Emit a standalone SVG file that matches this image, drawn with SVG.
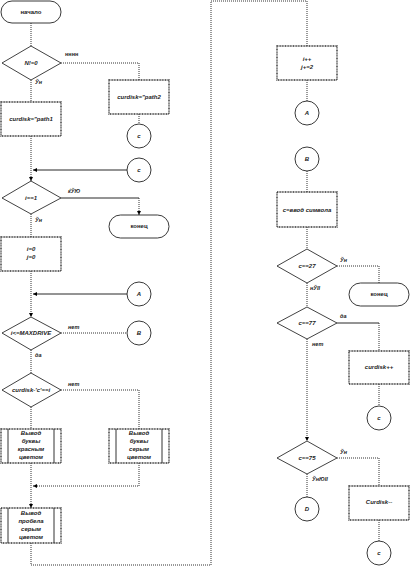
<svg xmlns="http://www.w3.org/2000/svg" width="411" height="567" viewBox="0 0 411 567">
<style>
.bg{fill:#fff}
.box{fill:#fff;stroke:#333;stroke-width:1.4;stroke-dasharray:1 0.6}
.dia{fill:#fff;stroke:#111;stroke-width:0.8}
.term{fill:#fff;stroke:#222;stroke-width:0.9}
.sub{stroke:#333;stroke-width:1}
.c{fill:none;stroke:#333;stroke-width:1;stroke-dasharray:1 1}
.s{fill:none;stroke:#111;stroke-width:0.9}
text{font-family:"Liberation Sans",Arial,sans-serif;font-size:6px;fill:#222;text-anchor:middle;font-style:italic;font-weight:bold}
.n{font-style:normal}
.lb{text-anchor:start;font-size:5.5px}
</style>
<defs>
<marker id="ar" viewBox="0 0 6 6" refX="6" refY="3" markerWidth="4" markerHeight="4" orient="auto" markerUnits="userSpaceOnUse">
<path d="M0,0 L6,3 L0,6 z" fill="#000"/>
</marker>
</defs>
<rect class="bg" width="411" height="567"/>
<g id="connectors">
<path class="c" d="M31,23 V46"/>
<path class="c" d="M61,63 H139 V80"/>
<path class="c" d="M31,80 V102"/>
<path class="c" d="M139,114 V124"/>
<path class="c" d="M31,136 V181" marker-end="url(#ar)"/>
<path class="s" d="M127,170 H33" marker-end="url(#ar)"/>
<path class="s" d="M61,198 H139"/>
<path class="c" d="M139,198 V215" marker-end="url(#ar)"/>
<path class="c" d="M31,214 V237"/>
<path class="c" d="M31,271 V317" marker-end="url(#ar)"/>
<path class="s" d="M127,294 H33" marker-end="url(#ar)"/>
<path class="c" d="M61,333 H127"/>
<path class="c" d="M31,350 V373"/>
<path class="c" d="M61,390 H139 V429"/>
<path class="c" d="M31,407 V429"/>
<path class="c" d="M139,463 V486 H33" marker-end="url(#ar)"/>
<path class="c" d="M31,463 V508" marker-end="url(#ar)"/>
<path class="c" d="M31,543 V565 H211 V1 H307 V46"/>
<path class="c" d="M307,80 V101"/>
<path class="c" d="M307,171 V192"/>
<path class="c" d="M307,227 V249"/>
<path class="c" d="M337,266 H379 V283"/>
<path class="c" d="M307,283 V307"/>
<path class="s" d="M337,323 H379"/>
<path class="c" d="M379,323 V351"/>
<path class="c" d="M379,384 V406"/>
<path class="c" d="M307,339 V441" marker-end="url(#ar)"/>
<path class="c" d="M337,458 H379 V486"/>
<path class="c" d="M379,520 V541"/>
<path class="c" d="M307,474 V497"/>
</g>
<g id="labels">
<text class="lb n" x="65" y="56">нннн</text>
<text class="lb" x="35" y="84">Ўн</text>
<text class="lb" x="68" y="193">ќЎЮ</text>
<text class="lb" x="35" y="222">Ўн</text>
<text class="lb" x="68" y="329">нет</text>
<text class="lb" x="35" y="357">да</text>
<text class="lb" x="68" y="386">нет</text>
<text class="lb" x="340" y="262">Ўн</text>
<text class="lb" x="310" y="290">нЎІІ</text>
<text class="lb" x="340" y="318">да</text>
<text class="lb" x="312" y="346">нет</text>
<text class="lb" x="340" y="454">Ўн</text>
<text class="lb" x="312" y="481">ЎнЮІІ</text>
</g>
<g id="start"><rect class="term" x="1" y="1" width="60" height="22" rx="11"/><text class="n" x="31" y="14">начало</text></g>
<g id="d1"><polygon class="dia" points="31,46 61,63 31,80 2,63"/><text x="31" y="65">N!=0</text></g>
<g id="p2"><rect class="box" x="109" y="80" width="60" height="34"/><text x="139" y="99">curdisk="path2</text></g>
<g id="c1"><circle class="term" cx="139" cy="136" r="12"/><text x="139" y="138">c</text></g>
<g id="p1"><rect class="box" x="1" y="102" width="60" height="34"/><text x="31" y="121">curdisk="path1</text></g>
<g id="c2"><circle class="term" cx="139" cy="170" r="12"/><text x="139" y="172">c</text></g>
<g id="d2"><polygon class="dia" points="31,181 61,198 31,214 2,198"/><text x="31" y="200">i==1</text></g>
<g id="end1"><rect class="term" x="109" y="215" width="60" height="23" rx="11.5"/><text class="n" x="139" y="228">конец</text></g>
<g id="init"><rect class="box" x="1" y="237" width="60" height="34"/><text x="31" y="251">i=0</text><text x="31" y="259">j=0</text></g>
<g id="cA"><circle class="term" cx="139" cy="294" r="12"/><text x="139" y="296">A</text></g>
<g id="d3"><polygon class="dia" points="31,317 61,333 31,350 2,333"/><text x="31" y="335">i&lt;=MAXDRIVE</text></g>
<g id="cB"><circle class="term" cx="139" cy="333" r="12"/><text x="139" y="335">B</text></g>
<g id="d4"><polygon class="dia" points="31,373 61,390 31,407 2,390"/><text x="31" y="392">curdisk-'c'==i</text></g>
<g id="red"><rect class="box" x="1" y="429" width="60" height="34"/><line class="sub" x1="8" y1="429" x2="8" y2="463"/><line class="sub" x1="54" y1="429" x2="54" y2="463"/><text x="31" y="435">Вывод</text><text x="31" y="443">буквы</text><text x="31" y="451">красным</text><text x="31" y="459">цветом</text></g>
<g id="grey"><rect class="box" x="109" y="429" width="60" height="34"/><line class="sub" x1="116" y1="429" x2="116" y2="463"/><line class="sub" x1="162" y1="429" x2="162" y2="463"/><text x="139" y="435">Вывод</text><text x="139" y="443">буквы</text><text x="139" y="451">серым</text><text x="139" y="459">цветом</text></g>
<g id="space"><rect class="box" x="1" y="508" width="60" height="35"/><line class="sub" x1="8" y1="508" x2="8" y2="543"/><line class="sub" x1="54" y1="508" x2="54" y2="543"/><text x="31" y="515">Вывод</text><text x="31" y="523">пробела</text><text x="31" y="531">серым</text><text x="31" y="539">цветом</text></g>
<g id="inc"><rect class="box" x="277" y="46" width="60" height="34"/><text x="307" y="61">i++</text><text x="307" y="69">j+=2</text></g>
<g id="cA2"><circle class="term" cx="307" cy="113" r="12"/><text x="307" y="115">A</text></g>
<g id="cB2"><circle class="term" cx="307" cy="159" r="12"/><text x="307" y="161">B</text></g>
<g id="input"><rect class="box" x="277" y="192" width="60" height="35"/><text x="307" y="212">c=ввод символа</text></g>
<g id="d5"><polygon class="dia" points="307,249 337,266 307,283 277,266"/><text x="307" y="268">c==27</text></g>
<g id="end2"><rect class="term" x="349" y="283" width="60" height="23" rx="11.5"/><text class="n" x="379" y="296">конец</text></g>
<g id="d6"><polygon class="dia" points="307,307 337,323 307,339 277,323"/><text x="307" y="325">c==77</text></g>
<g id="incd"><rect class="box" x="349" y="351" width="60" height="33"/><text x="379" y="369">curdisk++</text></g>
<g id="c3"><circle class="term" cx="379" cy="418" r="12"/><text x="379" y="420">c</text></g>
<g id="d7"><polygon class="dia" points="307,441 337,458 307,474 277,458"/><text x="307" y="460">c==75</text></g>
<g id="decd"><rect class="box" x="349" y="486" width="60" height="34"/><text x="379" y="504">Curdisk--</text></g>
<g id="cD"><circle class="term" cx="307" cy="509" r="12"/><text x="307" y="511">D</text></g>
<g id="c4"><circle class="term" cx="379" cy="553" r="12"/><text x="379" y="555">c</text></g>
</svg>
